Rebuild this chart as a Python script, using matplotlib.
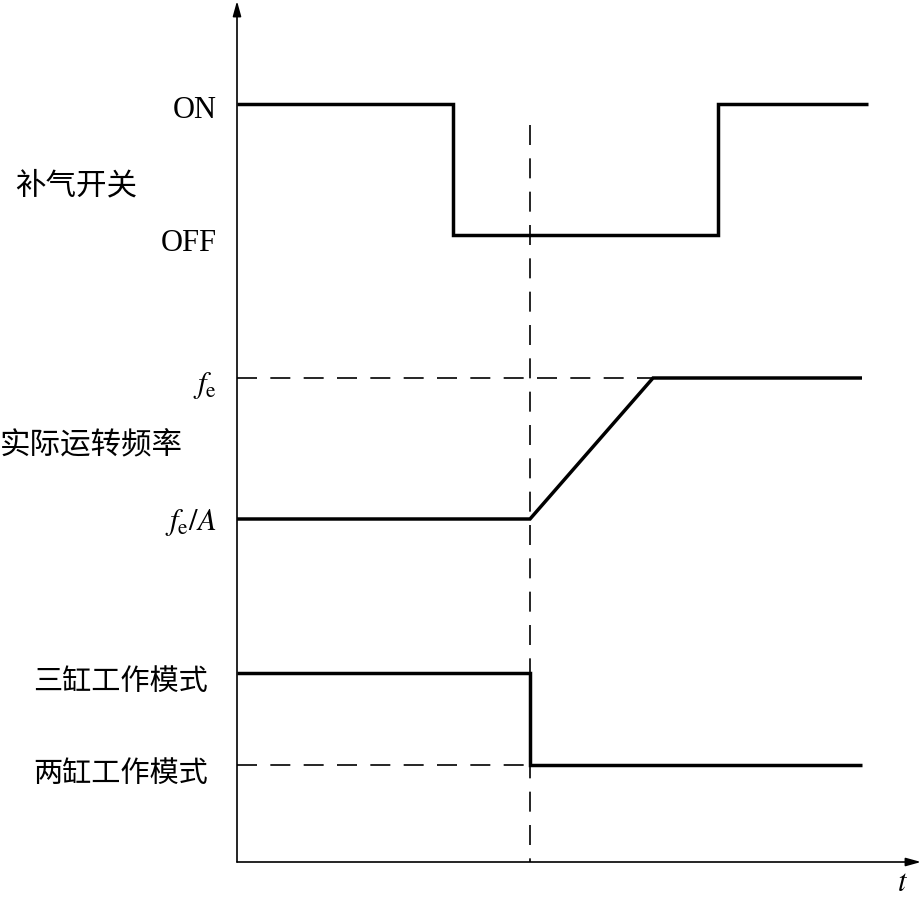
import matplotlib
matplotlib.use("Agg")
import matplotlib.pyplot as plt

plt.rcParams['mathtext.fontset'] = 'stix'

# Time positions (arbitrary units along t axis)
switch_t = [0, 216, 216, 481, 481, 631]
switch_v = ['ON', 'ON', 'OFF', 'OFF', 'ON', 'ON']

freq_t = [0, 293, 416, 625]
freq_v = ['fe/A', 'fe/A', 'fe', 'fe']

mode_t = [0, 293, 293, 625]
mode_v = ['three', 'three', 'two', 'two']

event_t = 293  # mode switch instant

# Level heights on the vertical axis
levels = {'ON': 758, 'OFF': 627, 'fe': 484, 'fe/A': 343, 'three': 189, 'two': 97}

level_labels = {
    'ON': 'ON', 'OFF': 'OFF',
    'fe': r'$f_{\mathrm{e}}$', 'fe/A': r'$f_{\mathrm{e}}/A$',
    'three': '三缸工作模式', 'two': '两缸工作模式',
}
group_labels = [('补气开关', 676), ('实际运转频率', 416)]

W, H = 923, 897
fig = plt.figure(figsize=(W / 100, H / 100), dpi=100)
ox, oy = 237, 862
ax = fig.add_axes([ox / W, (H - oy) / H, (W - ox) / W, oy / H])
ax.set_xlim(0, W - ox)
ax.set_ylim(0, oy)
ax.axis('off')

cjk = ['Noto Sans CJK SC', 'DejaVu Sans']
serif = ['Liberation Serif', 'DejaVu Serif']

# axes with arrows
ax.annotate('', xy=(684, 0), xytext=(0, 0),
            arrowprops=dict(arrowstyle='-|>,head_length=0.9,head_width=0.25', lw=1.2, color='black',
                            shrinkA=0, shrinkB=0))
ax.annotate('', xy=(0, 861), xytext=(0, 0),
            arrowprops=dict(arrowstyle='-|>,head_length=0.9,head_width=0.25', lw=1.2, color='black',
                            shrinkA=0, shrinkB=0))

thick = dict(color='black', lw=2.5, solid_joinstyle='miter', solid_capstyle='butt')
dash = dict(color='black', lw=1.2, dashes=(12, 8))

# dashed reference lines
ax.plot([event_t, event_t], [737, 0], **dash)
ax.plot([0, freq_t[2]], [levels['fe'], levels['fe']], **dash)
ax.plot([0, event_t], [levels['two'], levels['two']], **dash)

# signal traces
ax.plot(switch_t, [levels[v] for v in switch_v], **thick)
ax.plot(freq_t, [levels[v] for v in freq_v], **thick)
ax.plot(mode_t, [levels[v] for v in mode_v], **thick)

# level labels
for key, lab in level_labels.items():
    if key in ('three', 'two'):
        ax.text(-29, levels[key] - 9, lab, ha='right', va='center', fontsize=21,
                family=cjk, clip_on=False)
    else:
        dy = {'ON': -6, 'OFF': -8, 'fe': -7, 'fe/A': -3}[key]
        ax.text(-20, levels[key] + dy, lab, ha='right', va='center', fontsize=22,
                family=serif, clip_on=False)

for txt, y in group_labels:
    ax.text(-237 + (15 if len(txt) == 4 else 0), y, txt, ha='left', va='center',
            fontsize=22, family=cjk, clip_on=False)

ax.text(666, -20, r'$t$', ha='center', va='center', fontsize=22, clip_on=False)

fig.savefig('out.png', dpi=100)
